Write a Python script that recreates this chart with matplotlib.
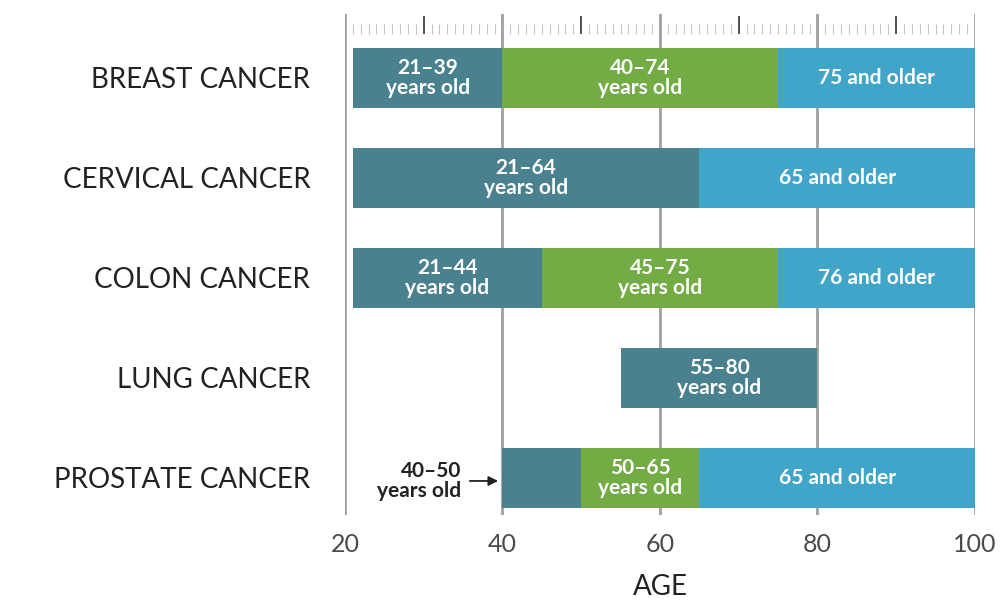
import matplotlib.pyplot as plt
import matplotlib.transforms as mtransforms

plt.rcParams['font.family'] = ['Lato', 'DejaVu Sans']

cancers = ["BREAST CANCER", "CERVICAL CANCER", "COLON CANCER",
           "LUNG CANCER", "PROSTATE CANCER"]

# age segments per cancer: (start, end, label, colour key)
breast = [(21, 40, "21–39\nyears old", "teal"),
          (40, 75, "40–74\nyears old", "green"),
          (75, 100, "75 and older", "blue")]
cervical = [(21, 65, "21–64\nyears old", "teal"),
            (65, 100, "65 and older", "blue")]
colon = [(21, 45, "21–44\nyears old", "teal"),
         (45, 75, "45–75\nyears old", "green"),
         (75, 100, "76 and older", "blue")]
lung = [(55, 80, "55–80\nyears old", "teal")]
prostate = [(40, 50, "", "teal"),
            (50, 65, "50–65\nyears old", "green"),
            (65, 100, "65 and older", "blue")]
segments = [breast, cervical, colon, lung, prostate]

colors = {"teal": "#4a818e", "green": "#73ab45", "blue": "#40a5c9"}

fig = plt.figure(figsize=(10.02, 6.04), dpi=100)
ax = fig.add_axes([0.3443, 0.1474, 0.6287, 0.8295])

# vertical grid lines
for x in [20, 40, 60, 80, 100]:
    ax.axvline(x, color="#a0a0a0", lw=2, zorder=0)

# ruler along the top
trans = mtransforms.blended_transform_factory(ax.transData, ax.transAxes)
minor = [v for v in range(21, 100) if v % 10 != 0]
ax.vlines(minor, 0.959, 0.98, transform=trans, color="#c4c4c4", lw=0.8)
ax.vlines([30, 50, 70, 90], 0.959, 0.995, transform=trans, color="#333333", lw=1.2)

for i, segs in enumerate(segments):
    for start, end, label, key in segs:
        ax.barh(i, end - start, left=start, height=0.6, color=colors[key],
                edgecolor="none", zorder=2)
        if label:
            ax.text((start + end) / 2, i, label, ha="center", va="center",
                    color="white", fontsize=15, fontweight="bold",
                    linespacing=0.95, zorder=3)

# label for the narrow prostate segment
ax.annotate("", xy=(39.8, 4.03), xytext=(35.5, 4.03),
            arrowprops=dict(arrowstyle="-|>", color="#222222", lw=1.3,
                            mutation_scale=14))
ax.text(34.8, 4.03, "40–50\nyears old", ha="right", va="center",
        color="#222222", fontsize=15, fontweight="bold", linespacing=0.95)

ax.set_xlim(20, 100)
ax.set_ylim(4.37, -0.64)
ax.set_yticks(range(len(cancers)))
ax.set_yticklabels(cancers, fontsize=20, color="#222222")
ax.set_xticks([20, 40, 60, 80, 100])
ax.tick_params(axis="x", labelsize=18, labelcolor="#4a4a4a", length=0, pad=13)
ax.tick_params(axis="y", length=0, pad=25)
ax.set_xlabel("AGE", fontsize=20, color="#222222", labelpad=13)
for s in ax.spines.values():
    s.set_visible(False)

fig.savefig("out.png", dpi=100)
